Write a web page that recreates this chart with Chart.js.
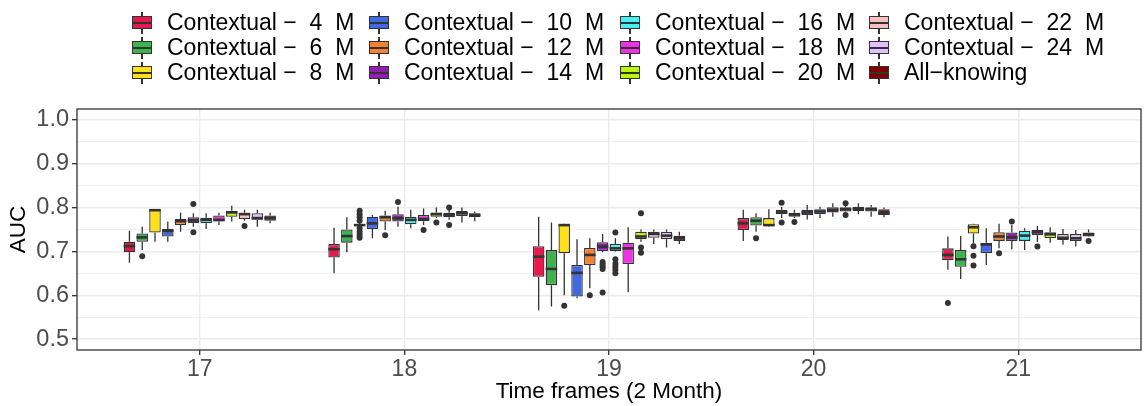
<!DOCTYPE html>
<html>
<head>
<meta charset="utf-8">
<script src="https://cdn.jsdelivr.net/npm/chart.js@4.4.1/dist/chart.umd.min.js"></script>
<style>
  body { margin: 0; background: #fff; }
  #wrap { position: relative; width: 1144px; height: 406px; font-family: "Liberation Sans", Arial, sans-serif; }
  #legend {
    position: absolute; left: 132px; top: 10px;
    display: grid; grid-auto-flow: column;
    grid-template-rows: repeat(3, 25px);
    grid-template-columns: 237px 251px 249px 260px;
  }
  .item { display: flex; align-items: center; font-size: 23px; white-space: pre; color: #000; }
  .key { position: relative; width: 20px; height: 22px; margin-right: 15px; flex: none; }
  .key .wh { position: absolute; left: 9.4px; top: 0; width: 1.3px; height: 22px; background: #333; }
  .key .bx { position: absolute; left: 0; top: 4.5px; width: 20px; height: 13px; box-sizing: border-box; border: 1.3px solid #333; }
  .key .md { position: absolute; left: 0; top: 10px; width: 20px; height: 2px; background: #333; }
</style>
</head>
<body>
<div id="wrap">
  <canvas id="chart" width="1144" height="406"></canvas>
  <div id="legend"></div>
</div>
<script>
// ── Données ──
const timeFrames = ['17', '18', '19', '20', '21'];
const yTicks = [0.5, 0.6, 0.7, 0.8, 0.9, 1.0];

const seriesNames = [
    'Contextual \u2212  4  M', 'Contextual \u2212  6  M', 'Contextual \u2212  8  M',
    'Contextual \u2212  10  M', 'Contextual \u2212  12  M', 'Contextual \u2212  14  M',
    'Contextual \u2212  16  M', 'Contextual \u2212  18  M', 'Contextual \u2212  20  M',
    'Contextual \u2212  22  M', 'Contextual \u2212  24  M', 'All\u2212knowing'
];
const seriesColors = [
    '#E6194B', '#3CB44B', '#FFE119', '#4169E1', '#F58231', '#911EB4',
    '#46F0F0', '#F032E6', '#BCF60C', '#FABEBE', '#E6BEFF', '#800000'
];

// one row per series, one column per time frame
const whiskerLow = [
    [0.674, 0.650, 0.566, 0.724, 0.658],
    [0.703, 0.698, 0.574, 0.745, 0.637],
    [0.722, 0.755, 0.600, 0.757, 0.718],
    [0.722, 0.730, 0.593, 0.776, 0.669],
    [0.745, 0.749, 0.616, 0.776, 0.707],
    [0.756, 0.756, 0.698, 0.773, 0.705],
    [0.751, 0.753, 0.700, 0.776, 0.703],
    [0.760, 0.760, 0.607, 0.779, 0.722],
    [0.768, 0.776, 0.722, 0.788, 0.720],
    [0.770, 0.772, 0.717, 0.785, 0.715],
    [0.756, 0.766, 0.709, 0.779, 0.711],
    [0.764, 0.769, 0.717, 0.778, 0.733]
];
const boxLow = [
    [0.698, 0.686, 0.642, 0.749, 0.680],
    [0.722, 0.720, 0.623, 0.759, 0.665],
    [0.743, 0.758, 0.696, 0.758, 0.741],
    [0.734, 0.751, 0.597, 0.785, 0.696],
    [0.760, 0.768, 0.669, 0.779, 0.724],
    [0.764, 0.768, 0.701, 0.783, 0.724],
    [0.764, 0.762, 0.701, 0.785, 0.724],
    [0.768, 0.769, 0.671, 0.789, 0.737],
    [0.779, 0.779, 0.728, 0.791, 0.730],
    [0.774, 0.778, 0.731, 0.792, 0.726],
    [0.772, 0.781, 0.728, 0.791, 0.724],
    [0.770, 0.778, 0.724, 0.783, 0.734]
];
const boxMid = [
    [0.712, 0.705, 0.688, 0.764, 0.692],
    [0.732, 0.735, 0.660, 0.770, 0.682],
    [0.794, 0.760, 0.760, 0.760, 0.755],
    [0.747, 0.764, 0.651, 0.789, 0.716],
    [0.769, 0.778, 0.692, 0.784, 0.734],
    [0.771, 0.776, 0.711, 0.789, 0.732],
    [0.772, 0.772, 0.707, 0.791, 0.736],
    [0.772, 0.774, 0.707, 0.795, 0.744],
    [0.789, 0.785, 0.734, 0.796, 0.739],
    [0.785, 0.783, 0.740, 0.797, 0.731],
    [0.776, 0.787, 0.736, 0.796, 0.730],
    [0.776, 0.783, 0.730, 0.788, 0.739]
];
const boxHigh = [
    [0.722, 0.717, 0.712, 0.776, 0.707],
    [0.741, 0.750, 0.703, 0.778, 0.703],
    [0.796, 0.762, 0.762, 0.776, 0.762],
    [0.751, 0.779, 0.669, 0.795, 0.720],
    [0.774, 0.782, 0.708, 0.788, 0.744],
    [0.778, 0.785, 0.721, 0.795, 0.743],
    [0.777, 0.779, 0.717, 0.796, 0.747],
    [0.782, 0.783, 0.720, 0.801, 0.749],
    [0.793, 0.789, 0.745, 0.801, 0.744],
    [0.788, 0.788, 0.745, 0.802, 0.740],
    [0.787, 0.792, 0.745, 0.801, 0.740],
    [0.782, 0.787, 0.736, 0.796, 0.743]
];
const whiskerHigh = [
    [0.747, 0.754, 0.779, 0.795, 0.734],
    [0.756, 0.778, 0.766, 0.787, 0.735],
    [0.797, 0.765, 0.763, 0.796, 0.763],
    [0.768, 0.783, 0.728, 0.802, 0.753],
    [0.789, 0.793, 0.730, 0.795, 0.763],
    [0.787, 0.802, 0.740, 0.806, 0.760],
    [0.787, 0.795, 0.730, 0.802, 0.753],
    [0.788, 0.798, 0.755, 0.810, 0.758],
    [0.804, 0.800, 0.750, 0.804, 0.755],
    [0.795, 0.795, 0.750, 0.810, 0.751],
    [0.795, 0.800, 0.750, 0.806, 0.749],
    [0.788, 0.791, 0.745, 0.800, 0.750]
];
const outliers = [
    [[], [], [], [], [0.582]],
    [[0.689], [], [], [0.730], []],
    [[], [0.793, 0.785, 0.778, 0.770, 0.753, 0.745, 0.738, 0.731], [0.576], [], [0.712, 0.690, 0.668]],
    [[], [], [], [0.811, 0.766], []],
    [[], [0.737], [0.600], [0.767], [0.696]],
    [[0.808, 0.744], [0.813], [0.676, 0.670, 0.665, 0.660, 0.606], [], [0.768]],
    [[], [], [0.743, 0.682, 0.672, 0.665, 0.658, 0.650], [], []],
    [[], [0.749], [], [], [0.711]],
    [[], [0.766], [0.787, 0.709, 0.697], [0.810, 0.783], []],
    [[0.758], [0.800, 0.760], [], [], []],
    [[], [], [], [], []],
    [[], [], [], [], [0.724]]
];

// ── Légende ──
const legendEl = document.getElementById('legend');
seriesNames.forEach((name, s) => {
    const item = document.createElement('div');
    item.className = 'item';
    item.innerHTML = '<span class="key"><span class="wh"></span><span class="bx" style="background:' +
        seriesColors[s] + '"></span><span class="md"></span></span><span></span>';
    item.lastChild.textContent = name;
    legendEl.appendChild(item);
});

// ── Boîtes : moustaches, médianes, points isolés ──
const INK = '#333333';

const boxParts = {
    id: 'boxParts',
    beforeDatasetsDraw(chart) {
        const ctx = chart.ctx;
        const y = chart.scales.y;
        ctx.save();
        ctx.strokeStyle = INK;
        ctx.lineWidth = 1.3;
        chart.data.datasets.forEach((ds, s) => {
            chart.getDatasetMeta(s).data.forEach((bar, j) => {
                ctx.beginPath();
                ctx.moveTo(bar.x, y.getPixelForValue(whiskerHigh[s][j]));
                ctx.lineTo(bar.x, y.getPixelForValue(boxHigh[s][j]));
                ctx.moveTo(bar.x, y.getPixelForValue(boxLow[s][j]));
                ctx.lineTo(bar.x, y.getPixelForValue(whiskerLow[s][j]));
                ctx.stroke();
            });
        });
        ctx.restore();
    },
    afterDatasetsDraw(chart) {
        const ctx = chart.ctx;
        const y = chart.scales.y;
        const area = chart.chartArea;
        ctx.save();
        chart.data.datasets.forEach((ds, s) => {
            chart.getDatasetMeta(s).data.forEach((bar, j) => {
                const half = bar.width / 2;
                const my = y.getPixelForValue(boxMid[s][j]);
                ctx.strokeStyle = INK;
                ctx.lineWidth = 2.6;
                ctx.beginPath();
                ctx.moveTo(bar.x - half, my);
                ctx.lineTo(bar.x + half, my);
                ctx.stroke();

                ctx.fillStyle = INK;
                outliers[s][j].forEach(v => {
                    ctx.beginPath();
                    ctx.arc(bar.x, y.getPixelForValue(v), 3, 0, Math.PI * 2);
                    ctx.fill();
                });
            });
        });
        // cadre du panneau
        ctx.strokeStyle = INK;
        ctx.lineWidth = 1.3;
        ctx.strokeRect(area.left, area.top, area.right - area.left, area.bottom - area.top);
        ctx.restore();
    }
};

// ── Graphique ──
Chart.defaults.font.family = "'Liberation Sans', Arial, sans-serif";

const datasets = seriesNames.map((name, s) => ({
    label: name,
    data: timeFrames.map((t, j) => ({ x: j + 1, y: [boxLow[s][j], boxHigh[s][j]] })),
    backgroundColor: seriesColors[s],
    borderColor: INK,
    borderWidth: 1.3,
    borderSkipped: false,
    categoryPercentage: 0.75,
    barPercentage: 0.9
}));

new Chart(document.getElementById('chart'), {
    type: 'bar',
    data: { datasets },
    plugins: [boxParts],
    options: {
        responsive: false,
        animation: false,
        events: [],
        layout: { padding: { top: 109, right: 3, left: 0, bottom: 0 } },
        plugins: { legend: { display: false }, tooltip: { enabled: false } },
        scales: {
            x: {
                type: 'linear',
                min: 0.4,
                max: 5.6,
                offset: false,
                afterBuildTicks: scale => {
                    scale.ticks = timeFrames.map((t, j) => ({ value: j + 1 }));
                },
                afterFit: scale => { scale.height = 56; },
                ticks: {
                    callback: v => timeFrames[Math.round(v) - 1],
                    color: '#4D4D4D',
                    font: { size: 23 },
                    padding: 1,
                    maxRotation: 0,
                    autoSkip: false
                },
                grid: {
                    offset: false,
                    color: '#EBEBEB',
                    lineWidth: 1.4,
                    tickColor: INK,
                    tickWidth: 1.3,
                    tickLength: 5
                },
                border: { display: false },
                title: {
                    display: true,
                    text: 'Time frames (2 Month)',
                    color: '#000',
                    font: { size: 22.5 },
                    padding: { top: 0, bottom: 1 }
                }
            },
            y: {
                min: 0.475,
                max: 1.025,
                afterBuildTicks: scale => {
                    const list = [];
                    yTicks.forEach((v, i) => {
                        list.push({ value: v });
                        if (i < yTicks.length - 1) list.push({ value: (v + yTicks[i + 1]) / 2, minor: true });
                    });
                    scale.ticks = list;
                },
                afterFit: scale => { scale.width = 77; },
                ticks: {
                    callback: (v, i, ticks) => ticks[i].minor ? '' : v.toFixed(1),
                    color: '#4D4D4D',
                    font: { size: 23.5 },
                    padding: 3,
                    autoSkip: false
                },
                grid: {
                    color: '#EBEBEB',
                    lineWidth: c => c.tick && c.tick.minor ? 0.7 : 1.4,
                    tickColor: c => c.tick && c.tick.minor ? 'rgba(0,0,0,0)' : INK,
                    tickWidth: 1.3,
                    tickLength: 5
                },
                border: { display: false },
                title: {
                    display: true,
                    text: 'AUC',
                    color: '#000',
                    font: { size: 22.5 },
                    padding: { top: 5, bottom: 0 }
                }
            }
        }
    }
});
</script>
</body>
</html>
